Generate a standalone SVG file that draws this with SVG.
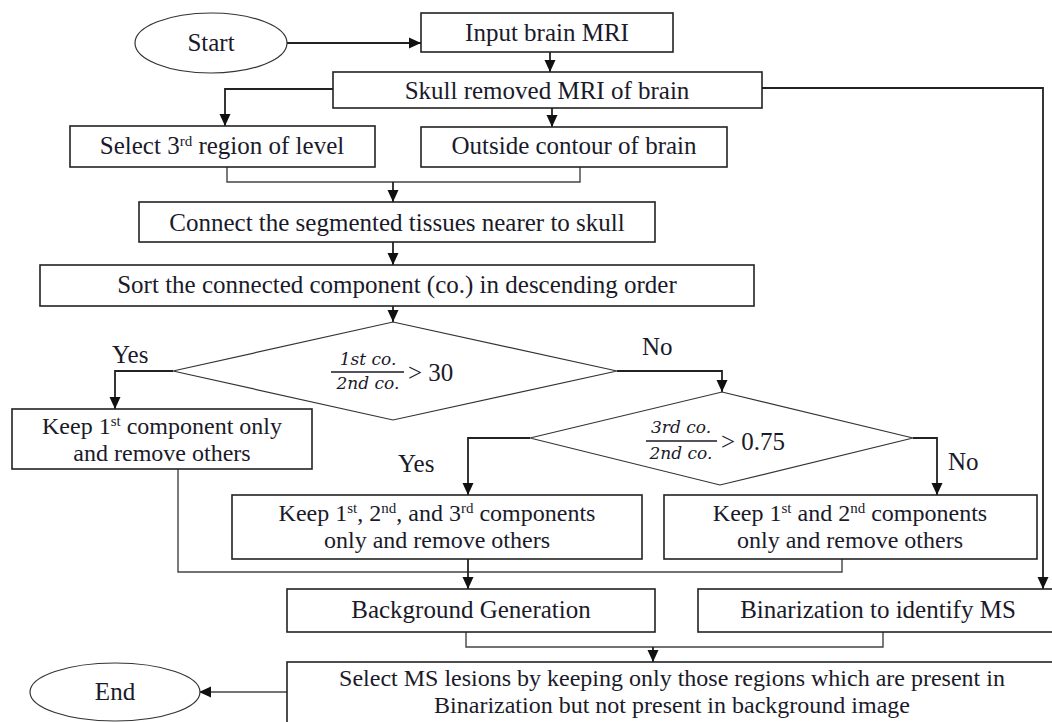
<svg xmlns="http://www.w3.org/2000/svg" width="1052" height="722" viewBox="0 0 1052 722">
<defs>
<marker id="ah" markerUnits="userSpaceOnUse" markerWidth="13" markerHeight="13" refX="12" refY="6.5" orient="auto">
<path d="M0,1 L12,6.5 L0,12 Z" fill="#111"/>
</marker>
<style>
.box{fill:#fff;stroke:#222;stroke-width:1.6}
.dia{fill:#fff;stroke:#333;stroke-width:1.2}
.t{font-family:"Liberation Serif","Times New Roman",serif;font-size:25px;fill:#1a1a2a;text-anchor:middle}
.t2{font-family:"Liberation Serif","Times New Roman",serif;font-size:24px;fill:#1a1a2a;text-anchor:middle}
.l{font-family:"Liberation Serif","Times New Roman",serif;font-size:25px;fill:#1a1a2a}
.f{font-family:"DejaVu Serif","Liberation Serif",serif;font-style:italic;font-size:17px;fill:#1a1a2a;text-anchor:middle}
.c{fill:none;stroke:#222;stroke-width:1.8}
.c2{fill:none;stroke:#444;stroke-width:1.4}
.sup{font-size:15px;baseline-shift:super}
</style>
</defs>
<rect width="1052" height="722" fill="#fff"/>

<g id="connectors">
<path class="c" d="M287,43 H421" marker-end="url(#ah)"/>
<path class="c" d="M550,52 V72" marker-end="url(#ah)"/>
<path class="c" d="M333,89 H225 V126" marker-end="url(#ah)"/>
<path class="c" d="M552,108 V127" marker-end="url(#ah)"/>
<path class="c" d="M762,88 H1043 V589" marker-end="url(#ah)"/>
<path class="c2" d="M227,167 V182 H580 V167"/>
<path class="c" d="M393,182 V202" marker-end="url(#ah)"/>
<path class="c" d="M393,242 V265" marker-end="url(#ah)"/>
<path class="c" d="M393,306 V322" marker-end="url(#ah)"/>
<path class="c" d="M173,371 H115 V409" marker-end="url(#ah)"/>
<path class="c" d="M617,371 H722 V392" marker-end="url(#ah)"/>
<path class="c" d="M530,438 H468 V495" marker-end="url(#ah)"/>
<path class="c" d="M913,438 H937 V495" marker-end="url(#ah)"/>
<path class="c2" d="M178,469 V572 H842 V559"/>
<path class="c" d="M468,559 V589" marker-end="url(#ah)"/>
<path class="c2" d="M466,632 V647 H883 V632"/>
<path class="c" d="M653,647 V662" marker-end="url(#ah)"/>
<path class="c2" d="M287,692 H199" marker-end="url(#ah)"/>
</g>

<g id="start">
<ellipse cx="211" cy="43" rx="76" ry="30" class="dia"/>
<text class="t" x="211" y="51">Start</text>
</g>

<g id="input">
<rect class="box" x="421" y="13" width="252" height="39"/>
<text class="t" x="547" y="41">Input brain MRI</text>
</g>

<g id="skull">
<rect class="box" x="333" y="72" width="429" height="36"/>
<text class="t" x="547" y="99">Skull removed MRI of brain</text>
</g>

<g id="select3">
<rect class="box" x="70" y="126" width="305" height="41"/>
<text class="t" x="222" y="154">Select 3<tspan class="sup">rd</tspan> region of level</text>
</g>

<g id="outside">
<rect class="box" x="421" y="127" width="306" height="40"/>
<text class="t" x="574" y="154">Outside contour of brain</text>
</g>

<g id="connect">
<rect class="box" x="139" y="202" width="516" height="40"/>
<text class="t" x="397" y="231">Connect the segmented tissues nearer to skull</text>
</g>

<g id="sort">
<rect class="box" x="40" y="265" width="714" height="41"/>
<text class="t" x="397" y="293">Sort the connected component (co.) in descending order</text>
</g>

<g id="decision1">
<polygon class="dia" points="393,322 617,371 393,420 173,371"/>
<text class="f" x="368" y="365">1st co.</text>
<line x1="331" y1="372" x2="404" y2="372" stroke="#1a1a2a" stroke-width="1.3"/>
<text class="f" x="368" y="389">2nd co.</text>
<text class="l" x="408" y="381">&gt; 30</text>
<text class="l" x="112" y="363">Yes</text>
<text class="l" x="642" y="355">No</text>
</g>

<g id="keep1">
<rect class="box" x="12" y="409" width="300" height="60"/>
<text class="t2" x="162" y="434">Keep 1<tspan class="sup">st</tspan> component only</text>
<text class="t2" x="162" y="461">and remove others</text>
</g>

<g id="decision2">
<polygon class="dia" points="722,392 913,438 720,485 530,438"/>
<text class="f" x="681" y="433">3rd co.</text>
<line x1="646" y1="441" x2="717" y2="441" stroke="#1a1a2a" stroke-width="1.3"/>
<text class="f" x="681" y="459">2nd co.</text>
<text class="l" x="721" y="450">&gt; 0.75</text>
<text class="l" x="398" y="472">Yes</text>
<text class="l" x="948" y="470">No</text>
</g>

<g id="keep123">
<rect class="box" x="232" y="495" width="410" height="64"/>
<text class="t2" x="437" y="521">Keep 1<tspan class="sup">st</tspan>, 2<tspan class="sup">nd</tspan>, and 3<tspan class="sup">rd</tspan> components</text>
<text class="t2" x="437" y="548">only and remove others</text>
</g>

<g id="keep12">
<rect class="box" x="664" y="495" width="373" height="64"/>
<text class="t2" x="850" y="521">Keep 1<tspan class="sup">st</tspan> and 2<tspan class="sup">nd</tspan> components</text>
<text class="t2" x="850" y="548">only and remove others</text>
</g>

<g id="background">
<rect class="box" x="287" y="589" width="368" height="43"/>
<text class="t" x="471" y="618">Background Generation</text>
</g>

<g id="binarization">
<rect class="box" x="698" y="589" width="370" height="43"/>
<text class="t" x="878" y="618">Binarization to identify MS</text>
</g>

<g id="select-ms">
<rect class="box" x="287" y="662" width="780" height="80"/>
<text class="t2" x="672" y="686">Select MS lesions by keeping only those regions which are present in</text>
<text class="t2" x="672" y="713">Binarization but not present in background image</text>
</g>

<g id="end">
<ellipse cx="115" cy="692" rx="85" ry="29" class="dia"/>
<text class="t" x="115" y="700">End</text>
</g>
</svg>
